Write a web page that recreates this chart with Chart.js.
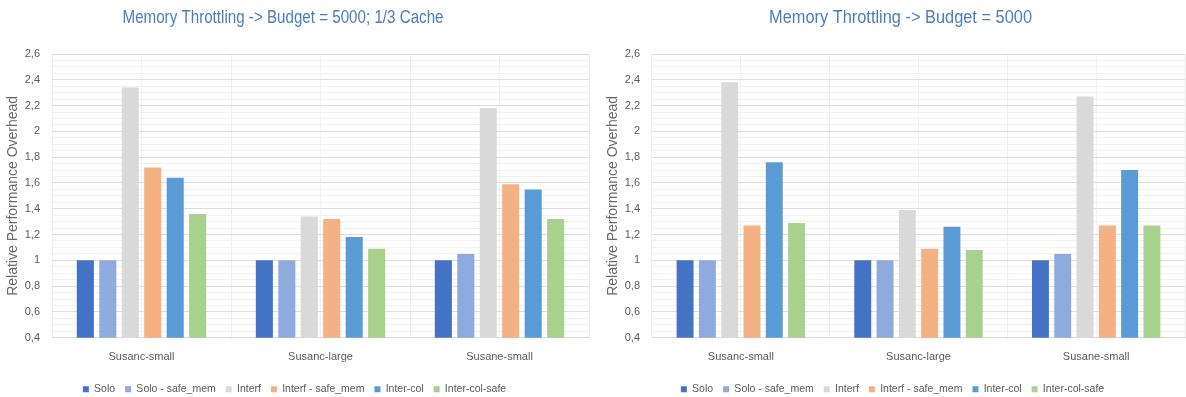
<!DOCTYPE html>
<html>
<head>
<meta charset="utf-8">
<script src="https://cdn.jsdelivr.net/npm/chart.js@4.4.1/dist/chart.umd.min.js"></script>
<style>
  html, body { margin: 0; padding: 0; background: #ffffff; }
  .panel { position: absolute; top: 0; }
</style>
</head>
<body>
<div class="panel" style="left:0"><canvas id="cacheChart" width="590" height="397"></canvas></div>
<div class="panel" style="left:600px"><canvas id="budgetChart" width="586" height="397"></canvas></div>
<script>
// Benchmarks on the x axis
const categories = ['Susanc-small', 'Susanc-large', 'Susane-small'];

// Run configurations (legend order)
const seriesNames = ['Solo', 'Solo - safe_mem', 'Interf', 'Interf - safe_mem', 'Inter-col', 'Inter-col-safe'];

// Budget = 5000 with 1/3 of the cache
const cacheSolo         = [1.00, 1.00, 1.00];
const cacheSoloSafe     = [1.00, 1.00, 1.05];
const cacheInterf       = [2.34, 1.34, 2.18];
const cacheInterfSafe   = [1.72, 1.32, 1.59];
const cacheInterCol     = [1.64, 1.18, 1.55];
const cacheInterColSafe = [1.36, 1.09, 1.32];

// Budget = 5000, full cache
const budgetSolo         = [1.00, 1.00, 1.00];
const budgetSoloSafe     = [1.00, 1.00, 1.05];
const budgetInterf       = [2.38, 1.39, 2.27];
const budgetInterfSafe   = [1.27, 1.09, 1.27];
const budgetInterCol     = [1.76, 1.26, 1.70];
const budgetInterColSafe = [1.29, 1.08, 1.27];

// Y axis range, labelled step and minor grid step
const yMin = 0.4;
const yMax = 2.6;
const yMajorStep = 0.2;
const yMinorStep = 0.05;

const palette = ['#4472C4', '#8FAADC', '#D9D9D9', '#F4B183', '#5B9BD5', '#A9D18E'];
const FONT = "'Liberation Sans', Arial, sans-serif";
const TEXT = '#595959';

// Draws the chart heading centred at a chosen x, squeezed to a set width
const headingPlugin = {
  id: 'heading',
  afterDraw(chart, args, opts) {
    const ctx = chart.ctx;
    ctx.save();
    ctx.font = opts.size + 'px ' + FONT;
    ctx.fillStyle = opts.color;
    ctx.textAlign = 'center';
    ctx.textBaseline = 'middle';
    const natural = ctx.measureText(opts.text).width;
    const sx = Math.min(1, opts.width / natural);
    ctx.translate(opts.x, opts.y);
    ctx.scale(sx, 1);
    ctx.fillText(opts.text, 0, 0);
    ctx.restore();
  }
};

function isMajor(v) {
  return Math.round(v * 100) % Math.round(yMajorStep * 100) === 0;
}

function makeChart(id, heading, headingX, headingWidth, values) {
  const datasets = seriesNames.map((name, i) => ({
    label: name,
    data: values[i],
    backgroundColor: palette[i],
    borderWidth: 0,
    categoryPercentage: 0.753,
    barPercentage: 0.76
  }));
  return new Chart(document.getElementById(id), {
    type: 'bar',
    data: { labels: categories, datasets },
    plugins: [headingPlugin],
    options: {
      responsive: false,
      animation: false,
      devicePixelRatio: 1,
      layout: { padding: { top: 54, right: 1, left: 0, bottom: -7.6 } },
      plugins: {
        heading: { text: heading, x: headingX, y: 18, width: headingWidth, size: 19, color: '#4A7EC0' },
        title: { display: false },
        tooltip: { enabled: false },
        legend: {
          position: 'bottom',
          labels: {
            boxWidth: 6,
            boxHeight: 6,
            padding: 10,
            color: TEXT,
            font: { family: FONT, size: 10.5 }
          }
        }
      },
      scales: {
        x: {
          offset: true,
          grid: { offset: true, color: '#EEEEEE', drawTicks: false },
          border: { display: true, color: '#D9D9D9' },
          ticks: { color: TEXT, font: { family: FONT, size: 11 }, padding: 12.5 },
          afterFit(scale) { scale.height = 36.4; }
        },
        xMid: {
          type: 'category',
          position: 'bottom',
          offset: true,
          grid: { offset: false, color: '#F3F3F3', drawTicks: false },
          border: { display: false },
          ticks: { display: false },
          afterFit(scale) { scale.height = 0; }
        },
        y: {
          min: yMin,
          max: yMax,
          border: { display: false },
          grid: {
            drawTicks: false,
            color: (c) => isMajor(c.tick.value) ? '#DDDDDD' : '#F1F1F1'
          },
          ticks: {
            stepSize: yMinorStep,
            autoSkip: false,
            padding: 12,
            color: TEXT,
            font: { family: FONT, size: 11 },
            callback: (v) => isMajor(v) ? String(Math.round(v * 10) / 10).replace('.', ',') : ''
          },
          title: {
            display: true,
            text: 'Relative Performance Overhead',
            color: '#6A6A6A',
            font: { family: FONT, size: 14 },
            padding: { top: 5, bottom: 0 }
          },
          afterFit(scale) { scale.width = 52; }
        }
      }
    }
  });
}

makeChart('cacheChart', 'Memory Throttling -> Budget = 5000; 1/3 Cache', 283, 321,
  [cacheSolo, cacheSoloSafe, cacheInterf, cacheInterfSafe, cacheInterCol, cacheInterColSafe]);

makeChart('budgetChart', 'Memory Throttling -> Budget = 5000', 300.5, 263,
  [budgetSolo, budgetSoloSafe, budgetInterf, budgetInterfSafe, budgetInterCol, budgetInterColSafe]);
</script>
</body>
</html>
